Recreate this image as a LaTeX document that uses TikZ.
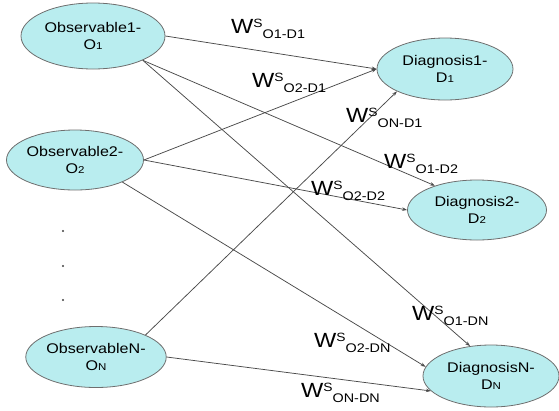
\documentclass[tikz,border=0pt]{standalone}
\usepackage{fontspec}
\setmainfont{Liberation Sans}[FakeStretch=1.15]
\usetikzlibrary{shapes.geometric,arrows.meta}
\definecolor{nodefill}{HTML}{B9EDEF}
\definecolor{nodeline}{HTML}{6E6E6E}
\definecolor{edgeline}{HTML}{4A4A4A}
% weight label: W with superscript S and a pair subscript
\newcommand\wlab[1]{{\fontsize{20.5}{20.5}\selectfont W}\raisebox{6pt}{\fontsize{12}{12}\selectfont S}\raisebox{-5pt}{\fontsize{12.5}{12.5}\selectfont #1}}
% letter with small index on the baseline
\newcommand\idx[2]{#1{\fontsize{10}{10}\selectfont #2}}
\begin{document}
\begin{tikzpicture}[x=1pt,y=-1pt,
  state/.style={ellipse,draw=nodeline,fill=nodefill,line width=0.8pt,inner sep=0pt,
    align=center,font=\fontsize{14}{17}\selectfont},
  link/.style={draw=edgeline,line width=0.75pt,-{Stealth[length=5pt,width=3.5pt]}},
  wl/.style={anchor=base west,inner sep=0pt}]
\useasboundingbox (0,0) rectangle (559,410);

% observables
\node[state,minimum width=144pt,minimum height=66pt] (o1) at (93,36) {Observable1-\\\idx{O}{1}};
\node[state,minimum width=137pt,minimum height=60pt] (o2) at (75,160) {Observable2-\\\idx{O}{2}};
\node[state,minimum width=138pt,minimum height=61pt] (on) at (96,357) {ObservableN-\\\idx{O}{N}};

% diagnoses
\node[state,minimum width=136pt,minimum height=62pt] (d1) at (445,69) {Diagnosis1-\\\idx{D}{1}};
\node[state,minimum width=139pt,minimum height=60pt] (d2) at (477,210) {Diagnosis2-\\\idx{D}{2}};
\node[state,minimum width=136pt,minimum height=62pt] (dn) at (491,376) {DiagnosisN-\\\idx{D}{N}};

% ellipsis between observable 2 and N
\foreach \y in {231,266,300}
  \fill[black!75] (63,\y) circle (1.1pt);

% weighted links
\draw[link] (o1.east) -- (d1.west);
\draw[link] (o1.334) -- (d2.150);
\draw[link] (o1.334) -- (dn.125);
\draw[link] (o2.east) -- (d1.west);
\draw[link] (o2.east) -- (d2.west);
\draw[link] (o2.335) -- (dn.172);
\draw[link] (on.24) -- (d1.205);
\draw[link] (on.east) -- (dn.194);

% link weights
\node[wl] (w11) at (231,33)  {\wlab{O1-D1}};
\node[wl] (w21) at (252,87)  {\wlab{O2-D1}};
\node[wl] (wn1) at (346,122) {\wlab{ON-D1}};
\node[wl] (w12) at (384,168) {\wlab{O1-D2}};
\node[wl] (w22) at (311,195) {\wlab{O2-D2}};
\node[wl] (w1n) at (412,320) {\wlab{O1-DN}};
\node[wl] (w2n) at (314,347) {\wlab{O2-DN}};
\node[wl] (wnn) at (301,397) {\wlab{ON-DN}};
\end{tikzpicture}
\end{document}
